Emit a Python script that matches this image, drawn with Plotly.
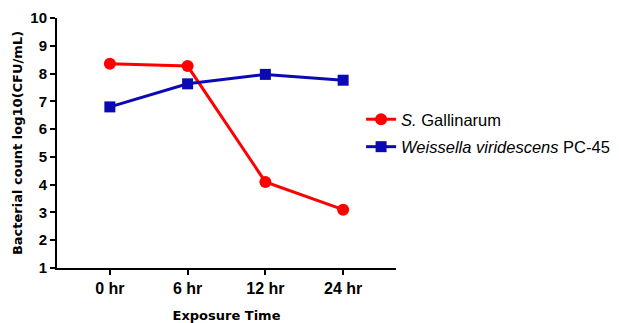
import plotly.graph_objects as go

categories = ["0 hr", "6 hr", "12 hr", "24 hr"]
gallinarum = [8.35, 8.27, 4.1, 3.1]
weissella = [6.8, 7.63, 7.97, 7.76]
y_ticks = [1, 2, 3, 4, 5, 6, 7, 8, 9, 10]

FONT = "Liberation Sans, Arial, sans-serif"
TITLE_FONT = "DejaVu Sans, Verdana, sans-serif"

fig = go.Figure()
fig.add_trace(go.Scatter(
    x=categories, y=gallinarum, mode="lines+markers",
    name="<i>S.</i> Gallinarum", legendgroup="a",
    line=dict(color="#FF0000", width=3),
    marker=dict(symbol="circle", size=12, color="#FF0000"),
))
fig.add_trace(go.Scatter(
    x=categories, y=weissella, mode="lines+markers",
    name="<i>Weissella viridescens</i> PC-45", legendgroup="b",
    line=dict(color="#0A0AB4", width=3),
    marker=dict(symbol="square", size=11, color="#0A0AB4"),
))

fig.update_layout(
    width=619, height=323,
    margin=dict(l=57, r=223, t=18, b=55, autoexpand=False),
    paper_bgcolor="white", plot_bgcolor="white",
    font=dict(family=FONT, color="black"),
    legend=dict(
        x=0.897, xanchor="left", y=0.54, yanchor="middle",
        font=dict(size=16.5, family=FONT),
        tracegroupgap=3, bgcolor="rgba(0,0,0,0)",
    ),
    xaxis=dict(
        type="category", range=[-0.68, 3.68], automargin=False,
        showline=True, linecolor="black", linewidth=2,
        ticks="outside", ticklen=5, tickwidth=2, tickcolor="black",
        showgrid=False, zeroline=False,
        tickfont=dict(size=16, family=FONT, weight="bold"),
        title=dict(text="<b>Exposure Time</b>", font=dict(size=13, family=TITLE_FONT), standoff=15),
    ),
    yaxis=dict(
        range=[1, 10], tickvals=y_ticks, automargin=False,
        showline=True, linecolor="black", linewidth=2,
        ticks="outside", ticklen=5, tickwidth=2, tickcolor="black",
        showgrid=False, zeroline=False,
        tickfont=dict(size=15, family=FONT, weight="bold"),
        title=dict(text="<b>Bacterial count log10(CFU/mL)</b>", font=dict(size=13, family=TITLE_FONT), standoff=5),
    ),
)

fig.write_html("out.html", config={"displayModeBar": False},
               post_script="document.body.style.margin='0';")
